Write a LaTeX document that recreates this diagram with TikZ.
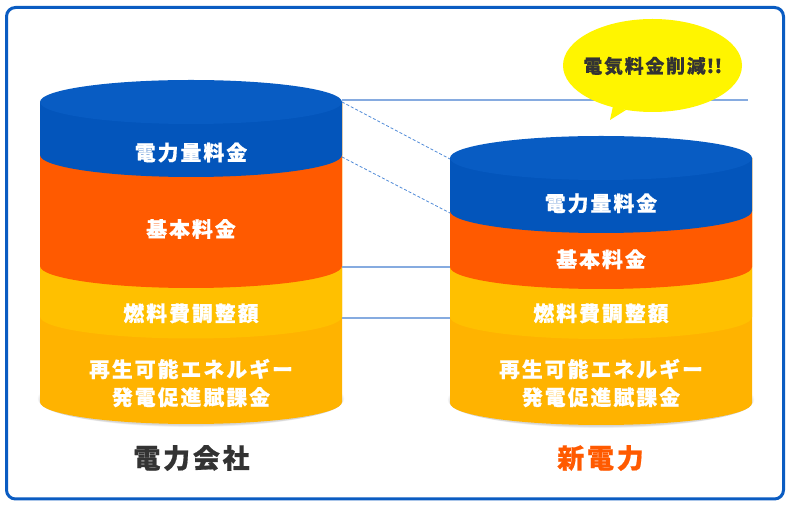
\documentclass[tikz,border=0pt]{standalone}
\usepackage{fontspec}
\setmainfont{Noto Sans CJK JP}[LetterSpace=10,BoldFeatures={FakeBold=0.6}]
\usetikzlibrary{shapes.geometric}
\definecolor{framec}{HTML}{0A5CC2}
\definecolor{linec}{HTML}{86ABE0}
\definecolor{dashc}{HTML}{4F8AD8}
\definecolor{toplidc}{HTML}{085CC3}
\definecolor{bluec}{HTML}{0355BB}
\definecolor{orangec}{HTML}{FF5A00}
\definecolor{yellowc}{HTML}{FFC000}
\definecolor{amberc}{HTML}{FFB300}
\definecolor{bubblec}{HTML}{FFF500}
\definecolor{inkc}{HTML}{333333}
\tikzset{
  layerlabel/.style={font=\bfseries\fontsize{20.8}{28}\selectfont,text=white,align=center,inner sep=0pt},
  titlelabel/.style={font=\bfseries\fontsize{27}{32}\selectfont,inner sep=0pt},
  guide/.style={linec,line width=1.2pt},
  guidedash/.style={dashc,line width=0.8pt,dash pattern=on 3pt off 2pt}
}
\begin{document}
\begin{tikzpicture}[x=1pt,y=1pt]
    \useasboundingbox (0,0) rectangle (790,506);
    %% frame
    \draw[framec,line width=3pt,rounded corners=9pt,fill=white] (6.5,7) rectangle (783.5,498.5);
    %% drums
    \foreach \cx/\ytop/\yb/\yo/\yy/\ya in {191/404/351/240/189.5/104,601/348/295/239/189/103} {
        \foreach \s in {1,...,14}
            \fill[black,opacity=0.01] (\cx,{\ya-1+\s/3}) ellipse ({151+\s/4-1} and {22+\s/2});
        \foreach \y/\col in {\ya/amberc,\yy/yellowc,\yo/orangec,\yb/bluec}
            \fill[\col] (\cx-151,\ytop) -- (\cx-151,\y)
                arc[start angle=180,end angle=360,x radius=151pt,y radius=22pt]
                -- (\cx+151,\ytop) -- cycle;
        \fill[toplidc] (\cx,\ytop) ellipse (151 and 22);
    }
    %% guide lines
    \coordinate (leftlid) at (342,406);
    \coordinate (guideend) at (748,406);
    \coordinate (leftlidlow) at (342,404);
    \coordinate (rightlid) at (450,347);
    \coordinate (leftblue) at (342,349);
    \coordinate (rightblue) at (450,293);
    \coordinate (leftorange) at (342,239);
    \coordinate (rightorange) at (450,239);
    \coordinate (leftyellow) at (342,188);
    \coordinate (rightyellow) at (450,188);
    \draw[guide] (leftlid) -- (guideend);
    \draw[guide] (leftorange) -- (rightorange);
    \draw[guide] (leftyellow) -- (rightyellow);
    \draw[guidedash] (leftlidlow) -- (rightlid);
    \draw[guidedash] (leftblue) -- (rightblue);
    %% bubble
    \node[ellipse,fill=bubblec,minimum width=179pt,minimum height=93pt,inner sep=0pt] (bubble) at (652.5,440.5) {};
    \coordinate (bubbletip) at (610,386);
    \fill[bubblec] (613,400) -- (bubbletip) -- (626,396) -- cycle;
    \node[font=\bfseries\fontsize{18.8}{24}\selectfont,text=inkc,inner sep=0pt] (savelabel) at (652.8,440) {電気料金削減\kern1pt!\kern0.5pt!};
    %% left drum labels
    \node[layerlabel] (leftenergy) at (191,353.5) {電力量料金};
    \node[layerlabel] (leftbase) at (191,277) {基本料金};
    \node[layerlabel] (leftfuel) at (191,192.7) {燃料費調整額};
    \node[layerlabel] (leftrenew) at (191,123) {再生可能エネルギー\\発電促進賦課金};
    \node[titlelabel,text=inkc] (lefttitle) at (191.5,48) {電力会社};
    %% right drum labels
    \node[layerlabel] (rightenergy) at (601,302.7) {電力量料金};
    \node[layerlabel] (rightbase) at (601,246.7) {基本料金};
    \node[layerlabel] (rightfuel) at (601,192.7) {燃料費調整額};
    \node[layerlabel] (rightrenew) at (601,123) {再生可能エネルギー\\発電促進賦課金};
    \node[titlelabel,text=orangec] (righttitle) at (600.5,48) {新電力};
\end{tikzpicture}
\end{document}
